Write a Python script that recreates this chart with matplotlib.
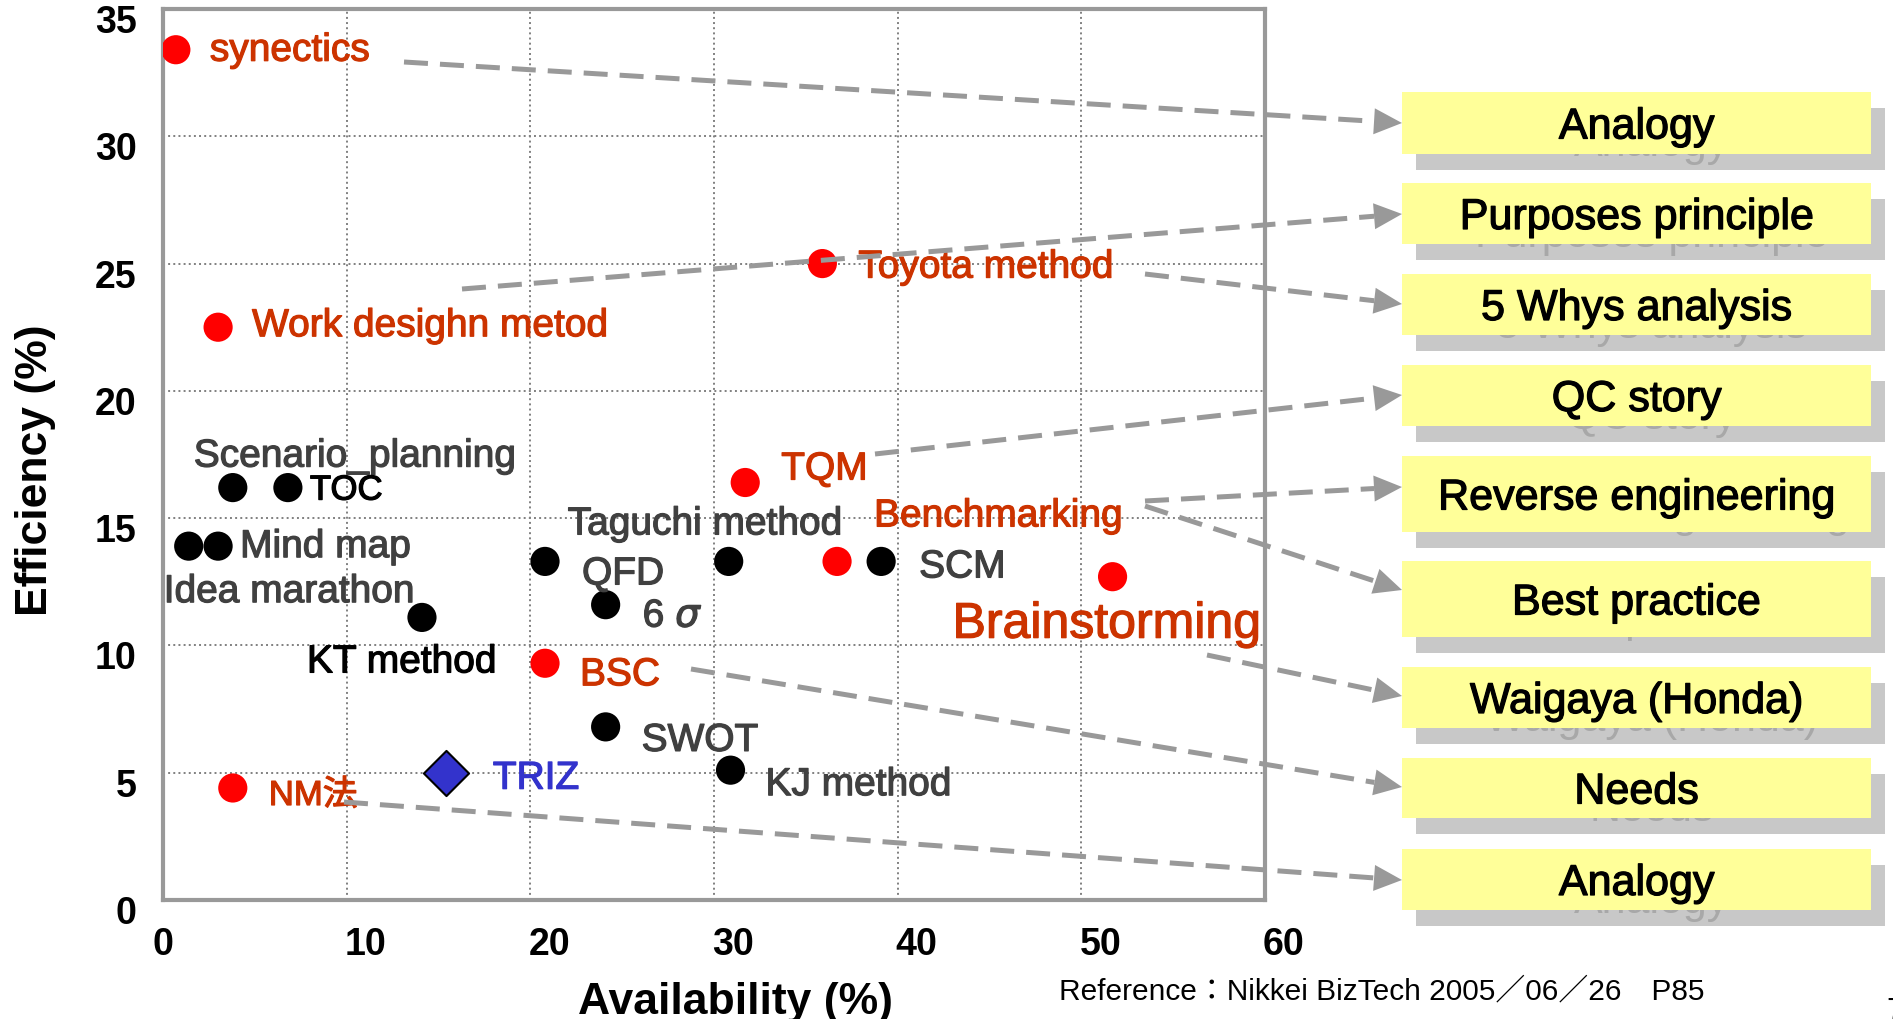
import matplotlib
matplotlib.use("Agg")
import matplotlib.pyplot as plt
import matplotlib.patheffects as pe
from matplotlib.patches import Rectangle, Polygon
from matplotlib.lines import Line2D
from matplotlib.transforms import ScaledTranslation
import numpy as np

W, H = 1893, 1020

# values
methods = ["synectics", "Work desighn metod", "Toyota method", "TQM", "Benchmarking",
           "Brainstorming", "BSC", "NM法", "Scenario_planning", "TOC", "Mind map",
           "Idea marathon", "KT method", "Taguchi method", "QFD", r"6 $\sigma$", "SWOT",
           "SCM", "KJ method", "TRIZ"]
availability = [0.7, 3.0, 35.9, 31.7, 36.7, 51.7, 20.8, 3.8, 3.8, 6.8, 3.0,
                1.4, 14.1, 30.8, 20.8, 24.1, 24.1, 39.1, 30.9, 15.4]
efficiency = [33.4, 22.5, 25.0, 16.4, 13.3, 12.7, 9.3, 4.4, 16.2, 16.2, 13.9,
              13.9, 11.1, 13.3, 13.3, 11.6, 6.8, 13.3, 5.1, 5.0]
group = ["red"] * 8 + ["black"] * 11 + ["triz"]

x_ticks = [0, 10, 20, 30, 40, 50, 60]
y_ticks = [0, 5, 10, 15, 20, 25, 30, 35]

box_labels = ["Analogy", "Purposes principle", "5 Whys analysis", "QC story",
              "Reverse engineering", "Best practice", "Waigaya (Honda)", "Needs", "Analogy"]

# layout (pixels of the 1893x1020 picture, y from the top)
RED, GRAY, BLUE = "#CC3300", "#404040", "#3333CC"
label_offset = [(34, -3), (34, -5), (36, 0), (36, -17), (37, -49), (-160, 43), (35, 8), (36, 4),
                (-39, -35), (22, -1), (22, -3), (-25, 42), (-115, 41), (-161, -41),
                (37, 9), (37, 8), (36, 10), (38, 2), (35, 11), (47, 2)]
label_color = [RED] * 8 + [GRAY, "black", GRAY, GRAY, "black", GRAY, GRAY, GRAY, GRAY,
                           GRAY, GRAY, BLUE]
label_size = [28] * 20
label_size[5] = 36
label_size[7] = 25
label_size[9] = 25

box_x0, box_x1 = 1402, 1871
box_rows = [(93, 155), (184, 245), (275, 336), (366, 427), (457, 533),
            (562, 638), (668, 729), (759, 819), (850, 911)]
arrow_from = [(404, 63), (462, 290), (1145, 275), (875, 455), (1145, 502),
              (1145, 507), (1207, 656), (691, 670), (344, 803)]
arrow_tip_y = [124, 215, 305, 396, 488, 591, 697, 788, 881]

plt.rcParams['font.family'] = ['Liberation Sans', 'Noto Sans CJK JP', 'DejaVu Sans']


def fpx(x, y):
    return x / W, 1 - y / H


fig = plt.figure(figsize=(W / 100, H / 100), dpi=100)
fig.patch.set_facecolor("white")
ax = fig.add_axes([163 / W, 1 - 901 / H, (1265 - 163) / W, (901 - 10) / H])

ax.set_xlim(0, 60)
ax.set_ylim(0, 35)
ax.set_xticks(x_ticks)
ax.set_yticks(y_ticks)
ax.tick_params(length=0, labelsize=27, pad=19)
for t in ax.get_xticklabels() + ax.get_yticklabels():
    t.set_fontweight("bold")
# the slide's tick labels sit a little off the grid
for t in ax.get_yticklabels():
    t.set_transform(t.get_transform() + ScaledTranslation(0, -0.09, fig.dpi_scale_trans))
for t in ax.get_xticklabels()[1:]:
    t.set_transform(t.get_transform() + ScaledTranslation(0.19, 0, fig.dpi_scale_trans))
ax.grid(True, linestyle=":", color="#808080", lw=1.4)
ax.set_axisbelow(True)
for s in ax.spines.values():
    s.set_color("#999999")
    s.set_linewidth(3)

fill = {"red": "#FF0000", "black": "#000000"}
for g in ["red", "black"]:
    idx = [i for i, k in enumerate(group) if k == g]
    ax.scatter([availability[i] for i in idx], [efficiency[i] for i in idx],
               s=21 ** 2, color=fill[g], edgecolors="none", zorder=3)
idx = [i for i, k in enumerate(group) if k == "triz"]
ax.scatter([availability[i] for i in idx], [efficiency[i] for i in idx], marker="D",
           s=23 ** 2, color=BLUE, edgecolors="black", linewidths=1.5, zorder=3)

for i, name in enumerate(methods):
    dx, dy = label_offset[i]
    ax.annotate(name, (availability[i], efficiency[i]), xytext=(dx, -dy),
                textcoords="offset pixels", ha="left", va="center_baseline",
                fontsize=label_size[i], color=label_color[i], zorder=4,
                path_effects=[pe.withStroke(linewidth=0.9, foreground=label_color[i])])

fig.text(36 / W, 1 - 470 / H, "Efficiency (%)", rotation=90, ha="center", va="center",
         fontsize=32, fontweight="bold")
fig.text(736 / W, 1 - 982 / H, "Availability (%)", ha="center", va="top",
         fontsize=32, fontweight="bold")
fig.text(1059 / W, 1 - 988 / H, "Reference：Nikkei BizTech 2005／06／26　P85",
         ha="left", va="center_baseline", fontsize=21.5)
fig.text(1886 / W, 1 - 997 / H, "7", ha="left", va="top", fontsize=22)

# boxes on the right, with their grey shadow
for (top, bot), lab in zip(box_rows, box_labels):
    cx, cy = (box_x0 + box_x1) / 2, (top + bot) / 2
    fig.add_artist(Rectangle(fpx(box_x0 + 14, bot + 16), (box_x1 - box_x0) / W,
                             (bot - top) / H, transform=fig.transFigure,
                             facecolor="#C8C8C8", edgecolor="none", zorder=5))
    fig.text(*fpx(cx + 15, cy + 17), lab, ha="center", va="center_baseline",
             fontsize=31, color="#A8A8A8", zorder=6)
    fig.add_artist(Rectangle(fpx(box_x0, bot), (box_x1 - box_x0) / W, (bot - top) / H,
                             transform=fig.transFigure, facecolor="#FFFF99",
                             edgecolor="none", zorder=7))
    fig.text(*fpx(cx, cy), lab, ha="center", va="center_baseline", fontsize=31,
             color="black", zorder=8,
             path_effects=[pe.withStroke(linewidth=0.9, foreground="black")])

# dashed arrows into the boxes
head_len, head_w = 28, 26
for (x0, y0), ty in zip(arrow_from, arrow_tip_y):
    p0 = np.array([x0, y0], float)
    p1 = np.array([box_x0, ty], float)
    u = (p1 - p0) / np.hypot(*(p1 - p0))
    n = np.array([-u[1], u[0]])
    base = p1 - head_len * u
    xs, ys = zip(fpx(*p0), fpx(*base))
    fig.add_artist(Line2D(xs, ys, transform=fig.transFigure, color="#999999", lw=3.6,
                          linestyle=(0, (4.8, 2.4)), dash_capstyle="butt", zorder=4))
    tri = [fpx(*p1), fpx(*(base + n * head_w / 2)), fpx(*(base - n * head_w / 2))]
    fig.add_artist(Polygon(tri, closed=True, transform=fig.transFigure,
                           facecolor="#999999", edgecolor="none", zorder=4))

fig.savefig("out.png", dpi=100, facecolor="white")
